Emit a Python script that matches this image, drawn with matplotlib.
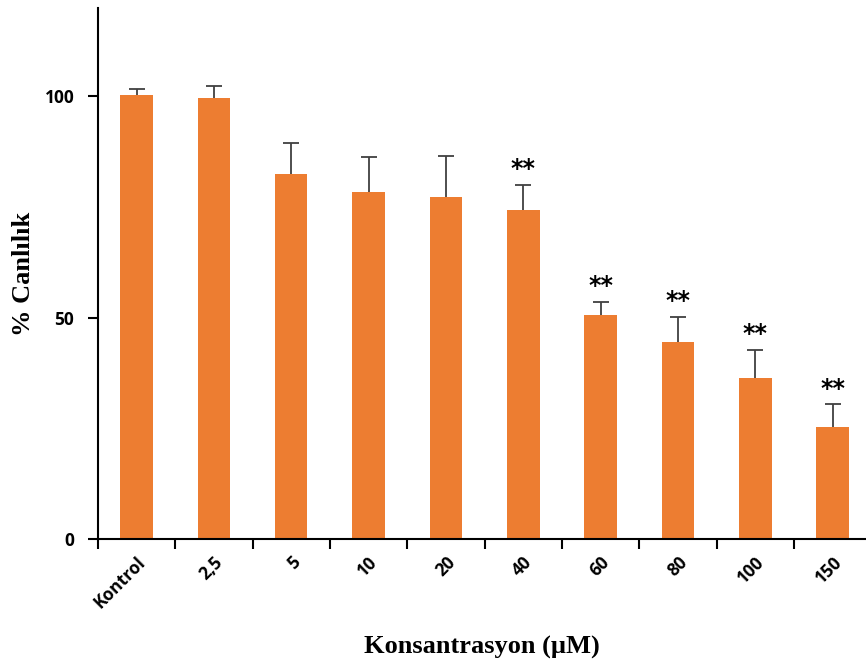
import numpy as np
import matplotlib.pyplot as plt

# --- Data
categories = ["Kontrol", "2,5", "5", "10", "20", "40", "60", "80", "100", "150"]
viability = [100.3, 99.6, 82.4, 78.4, 77.2, 74.3, 50.7, 44.6, 36.3, 25.4]
errors = [1.3, 2.7, 7.0, 7.9, 9.3, 5.7, 2.9, 5.6, 6.5, 5.0]
stars = ["", "", "", "", "", "**", "**", "**", "**", "**"]

x = np.arange(len(categories))

fig = plt.figure(figsize=(8.66, 6.61), dpi=100)
ax = fig.add_axes([0.113, 0.1846, 0.886, 0.8034])

ax.bar(x, viability, width=0.42, color="#ED7D31", zorder=2)
_, caps, _ = ax.errorbar(x, viability, yerr=[np.zeros(len(errors)), errors], fmt="none",
                         ecolor="#404040", elinewidth=1.3, capsize=6, capthick=1.3, zorder=3)
caps[0].set_visible(False)  # only the upper cap

for xi, v, e, s in zip(x, viability, errors, stars):
    if s:
        ax.text(xi, v + e + 0.8, s, ha="center", va="bottom",
                fontsize=17, fontweight="bold", family="DejaVu Sans")

ax.set_xlim(-0.5, 9.42)
ax.set_ylim(0, 120)
ax.set_yticks([0, 50, 100])
ax.set_xticks(x)
ax.set_xticks(np.arange(-0.5, 9.5, 1), minor=True)
ax.tick_params(axis="x", which="major", length=0, pad=10)
ax.tick_params(axis="x", which="minor", length=7, width=1.5, direction="out")
ax.tick_params(axis="y", length=7, width=1.5, direction="out", pad=10)
ax.set_xticklabels(categories, rotation=45, ha="right", rotation_mode="anchor",
                   fontsize=12.5, fontweight="bold", family="Open Sans")
for lab in ax.get_yticklabels():
    lab.set_fontsize(12.5)
    lab.set_fontweight("bold")
    lab.set_family("Open Sans")

for side in ["top", "right"]:
    ax.spines[side].set_visible(False)
ax.spines["left"].set_linewidth(1.5)
ax.spines["bottom"].set_linewidth(1.5)

ax.set_xlabel("Konsantrasyon (µM)", fontsize=19, fontweight="bold",
              family="Liberation Serif", labelpad=18)
ax.set_ylabel("% Canlılık", fontsize=19, fontweight="bold",
              family="Liberation Serif")
ax.yaxis.set_label_coords(-0.082, 0.5)

fig.savefig("out.png", dpi=100)
